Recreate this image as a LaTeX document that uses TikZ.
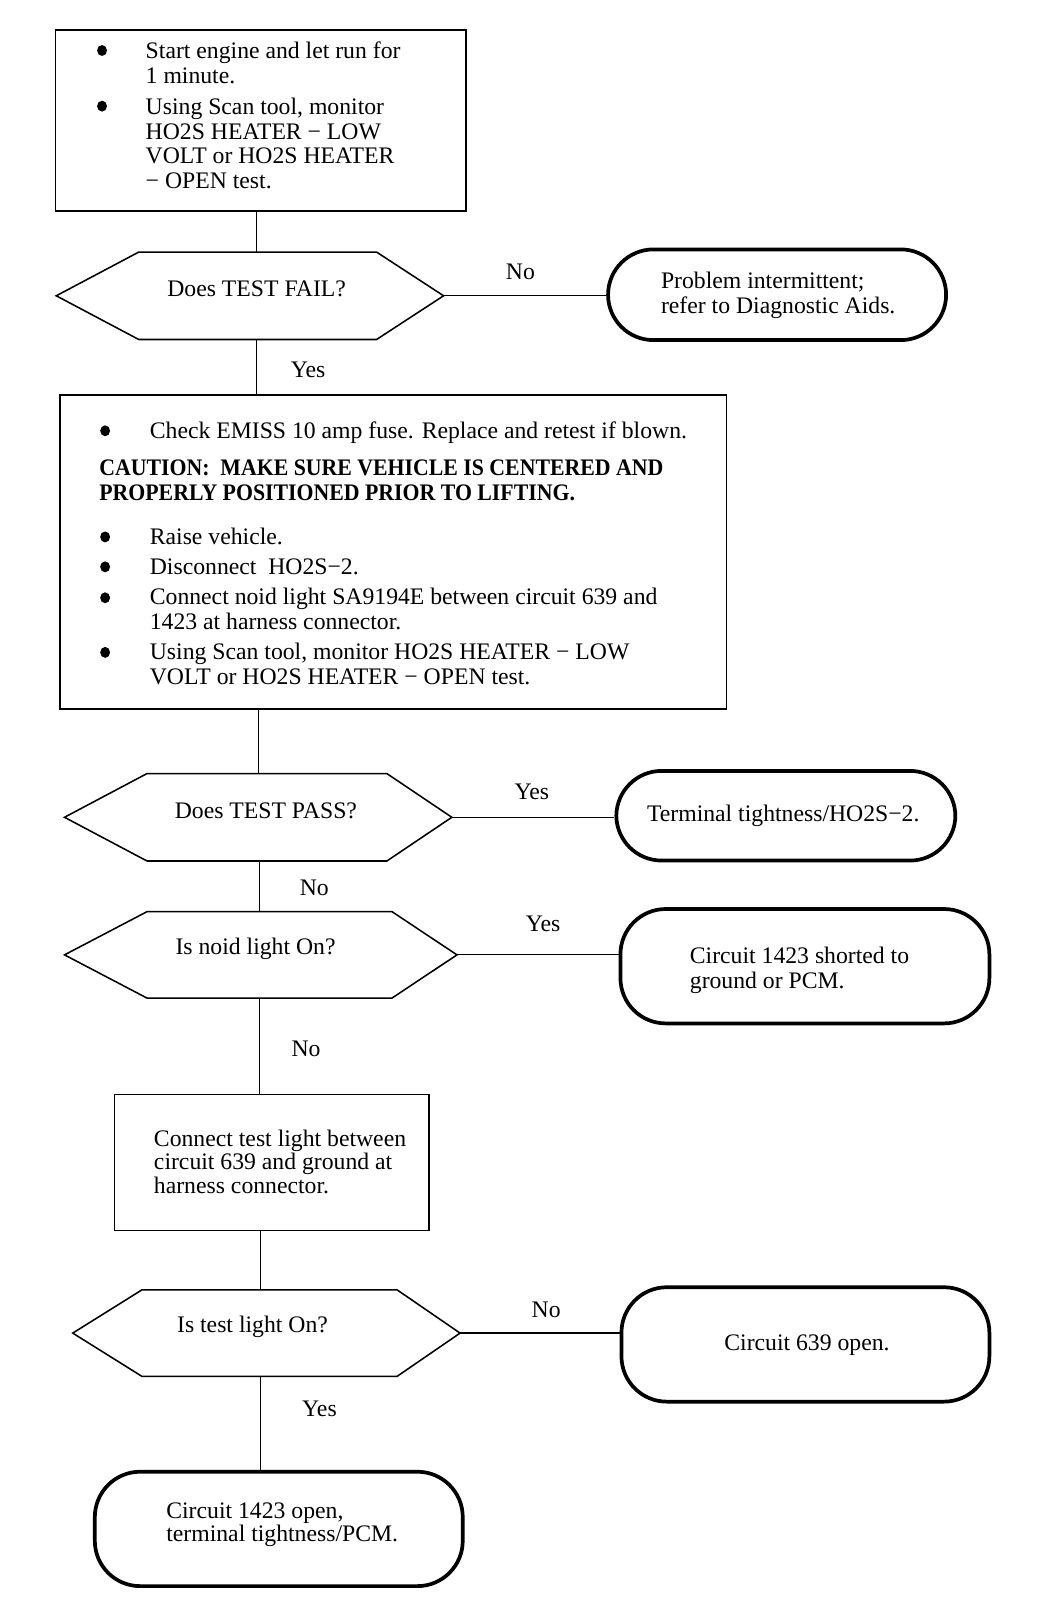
\documentclass[tikz,border=0pt]{standalone}
\usepackage{fontspec}
\usetikzlibrary{shapes.geometric}
\setmainfont{Liberation Serif}
\newfontfamily\boldcond[FakeStretch=0.92]{Liberation Serif}
\begin{document}
\begin{tikzpicture}[x=0.5pt,y=-0.5pt,
  procbox/.style={draw, line width=0.8pt, inner sep=0pt, rectangle},
  hexnode/.style={draw=none, inner sep=0pt, rectangle},
  hexline/.style={line width=0.75pt, line join=miter},
  term/.style={draw, line width=1.8pt, rounded corners=22pt, inner sep=0pt, rectangle},
  conn/.style={line width=0.6pt},
  txt/.style={inner sep=0pt, anchor=base west, font=\fontsize{11.5}{12}\selectfont},
  btxt/.style={txt, font=\fontsize{11.5}{12}\boldcond\bfseries},
  ctxt/.style={txt, anchor=base},
  dotmark/.style={ellipse, fill=black, draw=none, inner sep=0pt, minimum width=4.8pt, minimum height=5.3pt}
]
\newcommand\hexdraw[3]{\draw[hexline] (#1.west) -- ([xshift=#2]#1.north west) -- ([xshift=-#3]#1.north east) -- (#1.east) -- ([xshift=-#3]#1.south east) -- ([xshift=#2]#1.south west) -- cycle;}
\path[fill=white,use as bounding box] (0,0) rectangle (1025,1568);

% ---------- shapes ----------
\node[procbox, minimum width=199pt, minimum height=88pt] (b1) at (253,117) {};
\node[hexnode, minimum width=187.5pt, minimum height=42pt] (d1) at (242.5,287) {};
\hexdraw{d1}{40pt}{32.5pt}
\node[term, minimum width=164pt, minimum height=44pt] (o1) at (754,286) {};
\node[procbox, minimum width=323.5pt, minimum height=152.5pt] (b2) at (381.5,535.5) {};
\node[hexnode, minimum width=187.5pt, minimum height=42pt] (d2) at (250.5,793) {};
\hexdraw{d2}{40pt}{31.5pt}
\node[term, minimum width=164.5pt, minimum height=43.5pt] (o2) at (762.5,791.5) {};
\node[hexnode, minimum width=190pt, minimum height=41.5pt] (d3) at (253,926.5) {};
\hexdraw{d3}{40pt}{31.5pt}
\node[term, minimum width=179pt, minimum height=55.5pt] (o3) at (781,937.5) {};
\node[procbox, minimum width=152.5pt, minimum height=66pt] (b3) at (263.5,1128) {};
\node[hexnode, minimum width=187.5pt, minimum height=41.5pt] (d4) at (258.5,1293.5) {};
\hexdraw{d4}{33.5pt}{30.5pt}
\node[term, minimum width=178.5pt, minimum height=55.5pt] (o4) at (781.5,1304.5) {};
\node[term, minimum width=178.5pt, minimum height=55.5pt] (o5) at (270.5,1483.5) {};

% ---------- spine coordinates ----------
\coordinate (v1) at (249,0);
\coordinate (v2) at (251,0);
\coordinate (v3) at (252,0);
\coordinate (v4) at (253,0);

% ---------- connectors ----------
\draw[conn] (b1.south -| v1) -- (d1.north -| v1);
\draw[conn] (d1.south -| v1) -- (b2.north -| v1);
\draw[conn] (d1.east) -- (d1.east -| o1.west);
\draw[conn] (b2.south -| v2) -- (d2.north -| v2);
\draw[conn] (d2.east) -- (d2.east -| o2.west);
\draw[conn] (d2.south -| v3) -- (d3.north -| v3);
\draw[conn] (d3.east) -- (d3.east -| o3.west);
\draw[conn] (d3.south -| v3) -- (b3.north -| v3);
\draw[conn] (b3.south -| v4) -- (d4.north -| v4);
\draw[conn] (d4.east) -- (d4.east -| o4.west);
\draw[conn] (d4.south -| v4) -- (o5.north -| v4);

% ---------- box 1 text ----------
\node[dotmark] (b1p1) at (99,49) {};
\node[txt] (b1l1) at (141,57) {Start engine and let run for};
\node[txt] (b1l2) at (141,81) {1 minute.};
\node[dotmark] (b1p2) at (99,103) {};
\node[txt] (b1l3) at (141,111) {Using Scan tool, monitor};
\node[txt] (b1l4) at (141,135) {HO2S HEATER − LOW};
\node[txt] (b1l5) at (141,159) {VOLT or HO2S HEATER};
\node[txt] (b1l6) at (141,183) {− OPEN test.};

% ---------- decision 1 ----------
\node[ctxt] (d1t) at (249,288) {Does TEST FAIL?};
\node[ctxt] (d1no) at (505,271) {No};
\node[ctxt] (d1yes) at (299,366) {Yes};
\node[txt] (o1l1) at (641,280) {Problem intermittent;};
\node[txt] (o1l2) at (641,304) {refer to Diagnostic Aids.};

% ---------- box 2 text ----------
\node[dotmark] (b2p1) at (102,418) {};
\node[txt] (b2l1) at (145,425) {Check EMISS 10 amp fuse. Replace and retest if blown.};
\node[btxt] (b2c1) at (96,461) {CAUTION:\ \ MAKE SURE VEHICLE IS CENTERED AND};
\node[btxt] (b2c2) at (96,486) {PROPERLY POSITIONED PRIOR TO LIFTING.};
\node[dotmark] (b2p2) at (102,521) {};
\node[txt] (b2l2) at (145,528) {Raise vehicle.};
\node[dotmark] (b2p3) at (102,550) {};
\node[txt] (b2l3) at (145,557) {Disconnect\ \ HO2S−2.};
\node[dotmark] (b2p4) at (102,580) {};
\node[txt] (b2l4) at (145,587) {Connect noid light SA9194E between circuit 639 and};
\node[txt] (b2l5) at (145,611) {1423 at harness connector.};
\node[dotmark] (b2p5) at (102,633) {};
\node[txt] (b2l6) at (145,640) {Using Scan tool, monitor HO2S HEATER − LOW};
\node[txt] (b2l7) at (145,664) {VOLT or HO2S HEATER − OPEN test.};

% ---------- decision 2 ----------
\node[ctxt] (d2t) at (258,794) {Does TEST PASS?};
\node[ctxt] (d2yes) at (516,776) {Yes};
\node[ctxt] (d2no) at (305,869) {No};
\node[ctxt] (o2t) at (760,797) {Terminal tightness/HO2S−2.};

% ---------- decision 3 ----------
\node[ctxt] (d3t) at (248,926) {Is noid light On?};
\node[ctxt] (d3yes) at (527,904) {Yes};
\node[ctxt] (d3no) at (297,1025) {No};
\node[txt] (o3l1) at (669,935) {Circuit 1423 shorted to};
\node[txt] (o3l2) at (669,959) {ground or PCM.};

% ---------- box 3 text ----------
\node[txt] (b3l1) at (149,1112) {Connect test light between};
\node[txt] (b3l2) at (149,1135) {circuit 639 and ground at};
\node[txt] (b3l3) at (149,1158) {harness connector.};

% ---------- decision 4 ----------
\node[ctxt] (d4t) at (245,1293) {Is test light On?};
\node[ctxt] (d4no) at (530,1278) {No};
\node[ctxt] (d4yes) at (310,1374) {Yes};
\node[ctxt] (o4t) at (783,1310) {Circuit 639 open.};
\node[txt] (o5l1) at (161,1473) {Circuit 1423 open,};
\node[txt] (o5l2) at (161,1496) {terminal tightness/PCM.};
\end{tikzpicture}
\end{document}
